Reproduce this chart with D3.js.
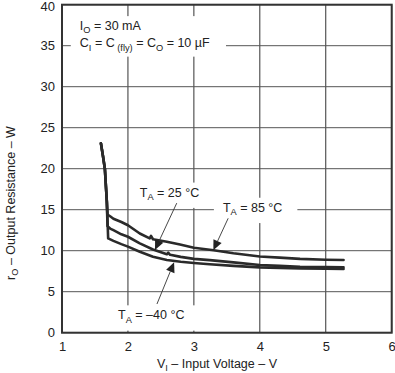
<!DOCTYPE html>
<html><head><meta charset="utf-8">
<script src="https://cdn.jsdelivr.net/npm/d3@7"></script>
<style>
body{margin:0;background:#fff}
text{font-family:"Liberation Sans",Arial,sans-serif;fill:#222}
</style>
</head><body>
<svg id="c" width="395" height="373"></svg>
<script>
// ---- data ----
const xTicks = [1, 2, 3, 4, 5, 6];
const yTicks = [0, 5, 10, 15, 20, 25, 30, 35, 40];

// V_I (V), r_o (ohm)
const t85 = [[1.59,23.1],[1.62,21.6],[1.65,20.0],[1.68,16.0],[1.69,14.4],[1.73,14.2],[1.78,13.9],[1.90,13.5],[2.0,13.1],[2.18,12.1],[2.33,11.5],[2.35,11.8],[2.38,11.4],[2.59,11.1],[2.79,10.75],[3.0,10.35],[3.3,10.05],[3.6,9.68],[4.0,9.3],[4.3,9.15],[4.61,9.0],[5.0,8.9],[5.27,8.87]];
const t25 = [[1.59,23.1],[1.62,21.6],[1.65,20.0],[1.68,16.0],[1.69,13.0],[1.73,12.7],[1.78,12.5],[1.90,12.0],[2.0,11.7],[2.18,10.9],[2.38,10.15],[2.59,9.56],[2.61,9.75],[2.64,9.5],[2.8,9.25],[3.0,9.0],[3.24,8.85],[3.6,8.58],[4.0,8.26],[4.3,8.15],[4.61,8.05],[5.0,8.0],[5.27,7.97]];
const tm40 = [[1.59,23.1],[1.62,21.6],[1.65,20.0],[1.68,16.0],[1.70,11.5],[1.78,11.2],[1.90,10.8],[2.0,10.5],[2.18,9.88],[2.38,9.27],[2.59,8.87],[2.8,8.65],[3.0,8.5],[3.24,8.34],[3.6,8.15],[4.0,7.97],[4.61,7.85],[5.0,7.8],[5.27,7.77]];

// annotation anchors in data units: text position, arrow tail, arrow tip
const labels = [
  {parts:[["T"],["A",1],[" = 25 °C"]], at:[2.18,16.6], tail:[2.74,15.8], tip:[2.41,10.1]},
  {parts:[["T"],["A",1],[" = 85 °C"]], at:[3.44,14.75], tail:[3.52,13.95], tip:[3.295,10.05]},
  {parts:[["T"],["A",1],[" = –40 °C"]], at:[1.85,1.63], tail:[2.44,3.5], tip:[2.70,8.6]}
];
const condLines = [
  {parts:[["I"],["O",1],[" = 30 mA"]], at:[1.27,36.9]},
  {parts:[["C"],["I",1],[" = C"],[" (fly)",1],[" = C"],["O",1],[" = 10  µF"]], at:[1.27,34.8]}
];

// ---- layout ----
const svg = d3.select("#c");
const L = 62, R = 391.7, T = 4.7, B = 332.7;
const x = d3.scaleLinear().domain([1, 6]).range([L, R]);
const y = d3.scaleLinear().domain([0, 40]).range([B, T]);
const FS = 12.5;

// grid
const g = svg.append("g");
g.selectAll(".gx").data(xTicks).enter().append("line")
  .attr("x1", d => x(d)).attr("x2", d => x(d)).attr("y1", T).attr("y2", B)
  .attr("stroke", "#333").attr("stroke-width", 1);
g.selectAll(".gy").data(yTicks).enter().append("line")
  .attr("x1", L).attr("x2", R).attr("y1", d => y(d)).attr("y2", d => y(d))
  .attr("stroke", "#555").attr("stroke-width", 1);

// axes tick labels via d3 axes
const xAxis = svg.append("g").attr("transform", `translate(0,${B})`)
  .call(d3.axisBottom(x).tickValues(xTicks).tickSize(0).tickPadding(9).tickFormat(d3.format("d")));
const yAxis = svg.append("g").attr("transform", `translate(${L},0)`)
  .call(d3.axisLeft(y).tickValues(yTicks).tickSize(0).tickPadding(7).tickFormat(d3.format("d")));
[xAxis, yAxis].forEach(a => {
  a.select(".domain").remove();
  a.selectAll("text").style("font-size", "13px").style("font-family", '"Liberation Sans",Arial,sans-serif').attr("fill", "#222");
});
xAxis.selectAll("text").attr("dy", "0.71em");
// keep the top label inside the picture
yAxis.selectAll(".tick").filter(d => d === 40).select("text").attr("dy", "0.42em");

function rich(sel, parts, fs) {
  let prevSub = false;
  parts.forEach(p => {
    const ts = sel.append("tspan").text(p[0]);
    if (p[1]) { ts.style("font-size", (fs * 0.74) + "px").attr("dy", prevSub ? 0 : 3.3); prevSub = true; }
    else { ts.attr("dy", prevSub ? -3.3 : 0); prevSub = false; }
  });
}

// white boxes + text for annotations
const ann = svg.append("g");
function boxedText(parts, at, padL, padR, padT, padB) {
  const grp = ann.append("g");
  const rect = grp.append("rect").attr("fill", "#fff");
  const t = grp.append("text").attr("x", x(at[0])).attr("y", y(at[1])).style("font-size", FS + "px");
  rich(t, parts, FS);
  return {grp, rect, t, padL, padR, padT, padB};
}
const boxes = [];
labels.forEach(l => boxes.push(boxedText(l.parts, l.at, 9, 15, 5, 6)));
const cond = condLines.map(c => {
  const t = ann.append("text").attr("x", x(c.at[0])).attr("y", y(c.at[1])).style("font-size", FS + "px");
  rich(t, c.parts, FS);
  return t;
});
// condition box
const cb = cond.map(t => t.node().getBBox());
const cx0 = d3.min(cb, b => b.x) - 9, cx1 = d3.max(cb, b => b.x + b.width) + 16;
const cy0 = d3.min(cb, b => b.y) - 3, cy1 = d3.max(cb, b => b.y + b.height) + 4;
ann.insert("rect", ":first-child").attr("x", cx0).attr("y", cy0).attr("width", cx1 - cx0).attr("height", cy1 - cy0).attr("fill", "#fff");
boxes.forEach(b => {
  const bb = b.t.node().getBBox();
  b.rect.attr("x", bb.x - b.padL).attr("y", bb.y - b.padT + 2)
    .attr("width", bb.width + b.padL + b.padR).attr("height", bb.height + b.padT + b.padB - 2);
});

// curves
const line = d3.line().x(d => x(d[0])).y(d => y(d[1]));
[t85, t25, tm40].forEach(s => {
  svg.append("path").attr("d", line(s)).attr("fill", "none")
    .attr("stroke", "#2a2a2a").attr("stroke-width", 2.6)
    .attr("stroke-linejoin", "round").attr("stroke-linecap", "round");
});

// leader lines with arrowheads
labels.forEach(l => {
  const x0 = x(l.tail[0]), y0 = y(l.tail[1]), x1 = x(l.tip[0]), y1 = y(l.tip[1]);
  const ang = Math.atan2(y1 - y0, x1 - x0);
  const len = 10, hw = 4.5;
  const bx = x1 - len * Math.cos(ang), by = y1 - len * Math.sin(ang);
  svg.append("line").attr("x1", x0).attr("y1", y0).attr("x2", bx).attr("y2", by)
    .attr("stroke", "#333").attr("stroke-width", 0.9);
  const px = -Math.sin(ang), py = Math.cos(ang);
  svg.append("path")
    .attr("d", `M${x1},${y1}L${bx + px * hw},${by + py * hw}L${bx - px * hw},${by - py * hw}Z`)
    .attr("fill", "#222");
});

// frame
svg.append("rect").attr("x", L).attr("y", T).attr("width", R - L).attr("height", B - T)
  .attr("fill", "none").attr("stroke", "#333").attr("stroke-width", 2);

// axis titles
const xt = svg.append("text").attr("x", 217).attr("y", 368).attr("text-anchor", "middle").style("font-size", FS + "px");
rich(xt, [["V"],["I",1],[" – Input Voltage – V"]], FS);
const yt = svg.append("text").attr("transform", "translate(15,203) rotate(-90)").attr("text-anchor", "middle").style("font-size", FS + "px");
rich(yt, [["r"],["O",1],[" – Output Resistance – W"]], FS);
</script>
</body></html>
